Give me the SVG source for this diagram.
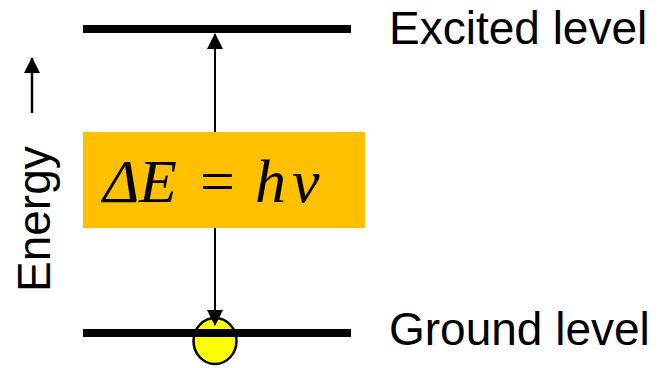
<svg xmlns="http://www.w3.org/2000/svg" width="659" height="368" viewBox="0 0 659 368">
<defs>
<style>
.lbl{font-family:"Liberation Sans",Arial,sans-serif;font-size:46px;fill:#000}
.lvl{stroke:#000;stroke-width:8}
.eq{font-family:"Liberation Serif","Times New Roman",serif;font-style:italic;font-size:62px;fill:#000}
</style>
<marker id="ah" markerWidth="16" markerHeight="16" viewBox="0 0 16 16" refX="15" refY="8" orient="auto-start-reverse" markerUnits="userSpaceOnUse">
<path d="M0,0 L16,8 L0,16 Z" fill="#000"/>
</marker>
</defs>
<rect width="659" height="368" fill="#fff"/>
<g id="electron">
<ellipse cx="215" cy="341" rx="21.5" ry="23" fill="#ff0" stroke="#000" stroke-width="2.5"/>
</g>
<g id="excited-level">
<line class="lvl" x1="83" y1="29" x2="351" y2="29"/>
<text class="lbl" x="389" y="44">Excited level</text>
</g>
<g id="ground-level">
<line class="lvl" x1="83" y1="333" x2="351" y2="333"/>
<text class="lbl" x="389" y="345">Ground level</text>
</g>
<g id="connectors">
<line x1="215" y1="34" x2="215" y2="325" stroke="#000" stroke-width="2" marker-start="url(#ah)" marker-end="url(#ah)"/>
<line x1="32" y1="113" x2="32" y2="58" stroke="#000" stroke-width="2.5" marker-end="url(#ah)"/>
</g>
<g id="equation">
<rect x="83" y="132" width="282" height="96" fill="#ffc000"/>
<text class="eq" y="202"><tspan x="103">Δ</tspan><tspan x="139">E</tspan><tspan x="200" font-style="normal">=</tspan><tspan x="255">h</tspan><tspan x="292">ν</tspan></text>
</g>
<g id="energy-label">
<text class="lbl" transform="translate(50,292) rotate(-90)">Energy</text>
</g>
</svg>
